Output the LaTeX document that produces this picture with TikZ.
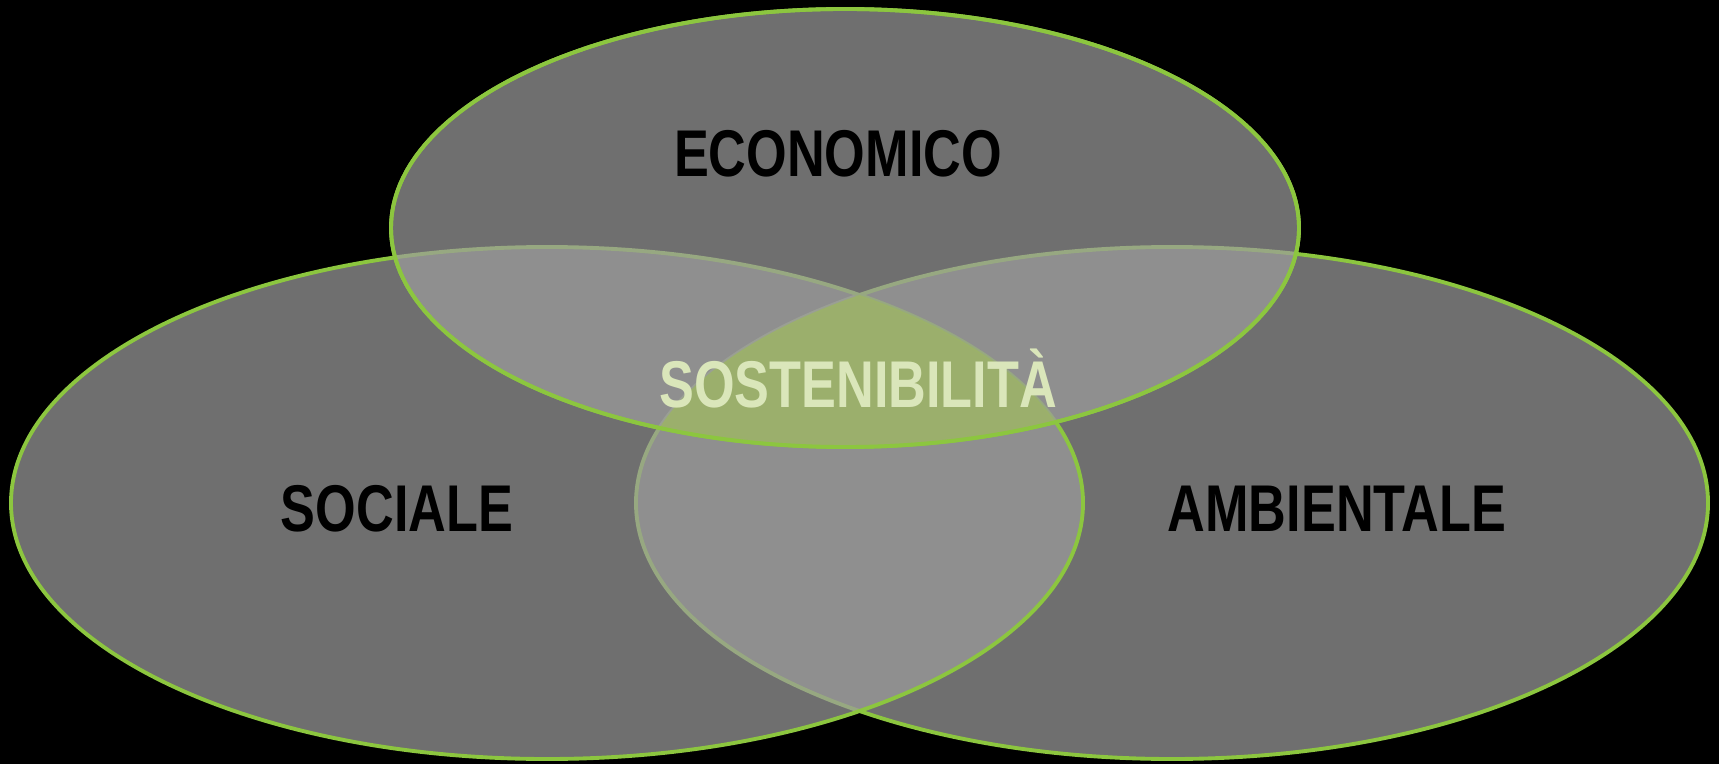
\documentclass[tikz,border=0pt]{standalone}
\usepackage{fontspec}
\setmainfont[FakeStretch=0.79]{Liberation Sans}
\usepackage{tikz}
\definecolor{rim}{RGB}{140,198,63}
\definecolor{setgray}{RGB}{156,156,156}
\definecolor{coregreen}{RGB}{156,178,104}
\definecolor{coretext}{RGB}{218,230,186}
\def\ecoset{(845,228) ellipse [x radius=454, y radius=219]}
\def\socset{(547,503) ellipse [x radius=536, y radius=256]}
\def\ambset{(1172,503) ellipse [x radius=536, y radius=256]}

\begin{document}
\begin{tikzpicture}[x=0.01cm,y=-0.01cm,
    set/.style={fill=setgray,fill opacity=0.712,draw=rim,line width=1.1pt},
    rimline/.style={draw=rim,line width=1.1pt},
    setname/.style={anchor=base,font=\fontsize{18.8}{22}\selectfont\bfseries,text=black}]
   \fill[black] (0,0) rectangle (1719,764);
   \useasboundingbox (0,0) rectangle (1719,764);
   % the three sets
   \path[set] \ambset;
   \path[set] \socset;
   \path[set] \ecoset;
   % common part
   \begin{scope}
     \clip \ecoset;
     \clip \socset;
     \fill[coregreen,fill opacity=0.9] \ambset;
   \end{scope}
   \path[rimline] \ecoset;
   % names
   \node[setname] (economico) at (838,177) {ECONOMICO};
   \node[setname] (sociale) at (397,531) {SOCIALE};
   \node[setname] (ambientale) at (1337,531) {AMBIENTALE};
   \node[setname,text=coretext] (sostenibilita) at (858,407) {SOSTENIBILITÀ};
\end{tikzpicture}
\end{document}
